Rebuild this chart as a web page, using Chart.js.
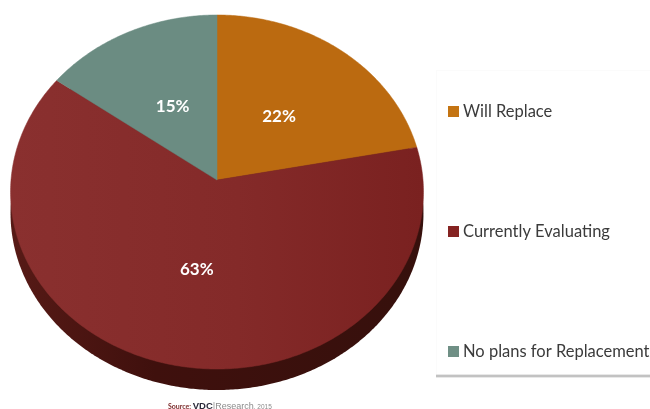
<!DOCTYPE html>
<html>
<head>
<meta charset="utf-8">
<style>html,body{margin:0;padding:0;background:#fff}canvas{display:block}</style>
<script src="https://cdn.jsdelivr.net/npm/chart.js@4"></script>
</head>
<body>
<canvas id="c" width="650" height="409"></canvas>
<script>
const categories = ['Will Replace', 'Currently Evaluating', 'No plans for Replacement'];
const values = [22, 63, 15];
const colors = ['#bb6a10', '#802524', '#6b8c82'];
const legendColors = ['#c47412', '#852322', '#6f8f85'];

// Perspective tilt of the pie, as in the reference picture
const K = 0.0678, APEX_DY = -12, SX = 206 / 177, SY = 164 / 177;
function project(arc, frac, angle) {
  const u = frac * Math.cos(angle), v = -frac * Math.sin(angle);
  const w = 1 + K * v;
  return {
    x: arc.x + SX * arc.outerRadius * u / w,
    y: (arc.y + APEX_DY - SY * arc.outerRadius * v) / w
  };
}
function trace(ctx, arc, a0, a1, dy, withApex) {
  const n = Math.max(4, Math.ceil((a1 - a0) / 0.01));
  ctx.beginPath();
  if (withApex) { const c = project(arc, 0, 0); ctx.moveTo(c.x, c.y + dy); }
  for (let i = 0; i <= n; i++) {
    const p = project(arc, 1, a0 + (a1 - a0) * i / n);
    ctx.lineTo(p.x, p.y + dy);
  }
  ctx.closePath();
}

const tiltedPie = {
  id: 'tiltedPie',
  beforeDatasetsDraw(chart) {
    const ctx = chart.ctx, arcs = chart.getDatasetMeta(0).data;
    ctx.save();
    // rim
    const g = ctx.createLinearGradient(11, 0, 423, 0);
    g.addColorStop(0, '#571a16'); g.addColorStop(0.35, '#3f100d');
    g.addColorStop(1, '#36100c');
    ctx.fillStyle = g;
    trace(ctx, arcs[0], 0, Math.PI * 2, 21, false);
    ctx.fill();
    // top face, from the library's own arc angles
    arcs.forEach((arc, i) => {
      trace(ctx, arc, arc.startAngle, arc.endAngle, 0, true);
      let fill = colors[i];
      if (i === 1) {
        const m = ctx.createLinearGradient(11, 0, 423, 0);
        m.addColorStop(0, '#8a302f'); m.addColorStop(0.55, '#842a29');
        m.addColorStop(1, '#7a2120');
        fill = m;
      }
      ctx.fillStyle = fill; ctx.strokeStyle = fill; ctx.lineWidth = 0.5;
      ctx.fill(); ctx.stroke();
    });
    // slice labels
    ctx.fillStyle = '#fff';
    ctx.font = 'bold 17px Lato';
    ctx.textAlign = 'center'; ctx.textBaseline = 'middle';
    const nudge = [[-2, 3], [3, 1], [1, 3]];
    arcs.forEach((arc, i) => {
      const p = project(arc, 0.5, (arc.startAngle + arc.endAngle) / 2);
      ctx.fillText(values[i] + '%', p.x + nudge[i][0], p.y + nudge[i][1]);
    });
    // legend panel
    ctx.fillStyle = '#fbfbfb';
    ctx.fillRect(436, 70, 1, 305);
    ctx.fillRect(436, 70, 214, 1);
    ctx.fillStyle = '#e8e8e8';
    ctx.fillRect(436, 374, 214, 1);
    ctx.fillRect(436, 377, 214, 1);
    ctx.fillStyle = '#c2c2c2';
    ctx.fillRect(436, 375, 214, 2);
    // legend
    ctx.textAlign = 'left'; ctx.textBaseline = 'alphabetic';
    ctx.font = '16.5px Lato';
    categories.forEach((label, i) => {
      const y = 111 + i * 120;
      ctx.fillStyle = legendColors[i];
      ctx.fillRect(448, y - 5, 11, 11);
      ctx.fillStyle = '#3b3b3b';
      ctx.fillText(label, 463, y + 6);
    });
    // source
    ctx.textBaseline = 'alphabetic';
    let x = 168; const yb = 409;
    [['Source:', 'bold 7px Lato', '#7b2a2a'], [' ', '6px Lato', '#000'],
     ['VDC', 'bold 9.5px "Liberation Sans"', '#2b2b3a'], ['|', '9.5px "Liberation Sans"', '#999'],
     ['Research', '9px "Liberation Sans"', '#8a8a8a'], [', 2015', '6.5px "Liberation Sans"', '#8a8a8a']]
    .forEach(([t, f, c]) => {
      ctx.font = f; ctx.fillStyle = c; ctx.fillText(t, x, yb);
      x += ctx.measureText(t).width;
    });
    ctx.restore();
    return false;
  }
};

new Chart(document.getElementById('c'), {
  type: 'pie',
  data: { labels: categories, datasets: [{ data: values, backgroundColor: colors, borderWidth: 0 }] },
  options: {
    responsive: false,
    animation: false,
    devicePixelRatio: 1,
    layout: { padding: { left: 11, right: 227, top: 15, bottom: 40 } },
    plugins: { legend: { display: false }, tooltip: { enabled: false } }
  },
  plugins: [tiltedPie]
});
</script>
</body>
</html>
